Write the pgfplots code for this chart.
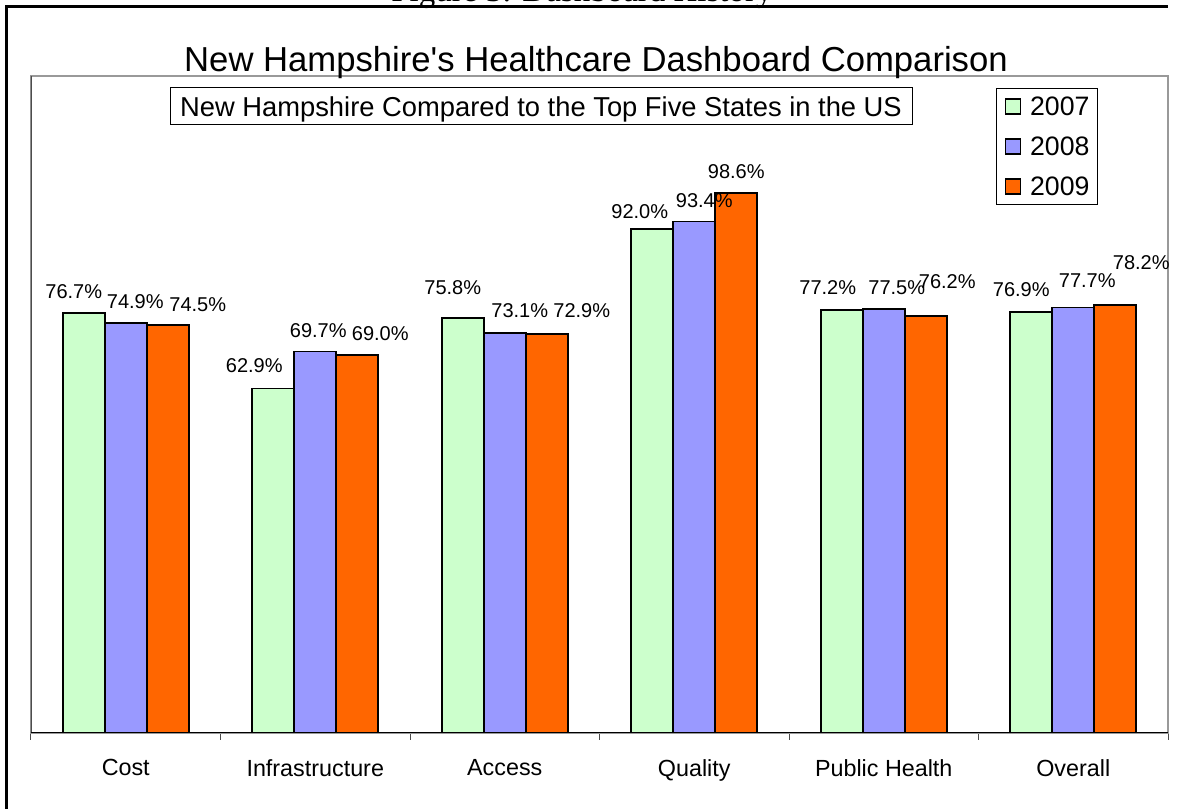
\documentclass[border=0pt]{standalone}
\usepackage{fontspec}
\setmainfont{Liberation Sans}
\newfontfamily\plainsans{Liberation Sans}
\newfontfamily\capserif{Liberation Serif}
\usepackage{pgfplots}
\usepackage{pgfplotstable}
\pgfplotsset{compat=1.18}
\definecolor{cgreen}{HTML}{CCFFCC}
\definecolor{cpurple}{HTML}{9999FF}
\definecolor{corange}{HTML}{FF6600}

\pgfplotstableread{
x y dx dy
0 76.7 -10 0
1 62.9 -19 2
2 75.8 -10 9
3 92.0 -12.5 -3
4 77.2 -14 2
5 76.9 -10 1
}\tblA
\pgfplotstableread{
x y dx dy
0 74.9 9.5 0
1 69.7 3 0
2 73.1 15 1
3 93.4 10 0
4 77.5 13 0
5 77.7 14 6
}\tblB
\pgfplotstableread{
x y dx dy
0 74.5 30 0
1 69.0 23 1
2 72.9 35 2
3 98.6 0 1
4 76.2 21.5 13
5 78.2 26 21
}\tblC

\begin{document}
\begin{tikzpicture}
\useasboundingbox (0,0) rectangle (882.75pt,606.75pt);
\begin{scope}
\clip (0,0) rectangle (882.75pt,606.75pt);
\node[anchor=base, font=\capserif\fontsize{24.75}{30}\selectfont, inner sep=0pt] at (436.5pt,605.5pt) {Figure 3: Dashboard History};
\end{scope}
\draw[line width=2.25pt] (4.5pt,0) -- (4.5pt,601.5pt) -- (876pt,601.5pt);

\begin{axis}[
  at={(23.25pt,57pt)}, anchor=south west,
  scale only axis, width=852.75pt, height=492.75pt,
  xmin=-0.5, xmax=5.5, ymin=0, ymax=120,
  ytick=\empty,
  xtick={0,...,5},
  xticklabels={Cost,Infrastructure,Access,Quality,Public Health,Overall},
  major tick length=0pt,
  minor xtick={-0.5,0.5,...,5.5},
  minor tick length=5.25pt,
  minor x tick style={draw=black!70, line width=0.75pt},
  tick align=outside,
  xtick pos=bottom,
  xticklabel style={font=\fontsize{17.5}{21}\selectfont, inner sep=0pt, anchor=north, yshift=-19.5pt},
  axis line style={draw=black!40, line width=1.1pt},
  ybar, bar width=0.2216,
  point meta=y,
  visualization depends on={\thisrow{dx} \as \ldx},
  visualization depends on={\thisrow{dy} \as \ldy},
  nodes near coords={\pgfmathprintnumber[fixed,fixed zerofill,precision=1]{\pgfplotspointmeta}\%},
  nodes near coords style={font=\fontsize{15}{18}\selectfont, inner sep=0pt, anchor=south, xshift=0.75pt*\ldx, yshift=9.75pt+0.75pt*\ldy},
  /pgf/number format/assume math mode=true,
  legend style={at={(0.9384,0.9817)}, anchor=north east, draw=black, line width=0.75pt, fill=white,
    font=\fontsize{20}{24}\selectfont, inner xsep=6pt, inner ysep=6.3pt, row sep=15.7pt,
    nodes={inner sep=0pt, text height=14.3pt, text depth=0pt}},
  legend cell align=left,
  legend image code/.code={\draw[#1, line width=0.9pt] (0pt,-5.6pt) rectangle (11.25pt,5.6pt); \path (18pt,0pt);},
]
\addplot[draw=black, line width=1.3pt, fill=cgreen, bar shift=-0.2216] table[x=x,y=y]{\tblA};
\addplot[draw=black, line width=1.3pt, fill=cpurple, bar shift=0] table[x=x,y=y]{\tblB};
\addplot[draw=black, line width=1.3pt, fill=corange, bar shift=0.2216] table[x=x,y=y]{\tblC};
\legend{2007,2008,2009}
\draw[black!70, line width=1.1pt] (rel axis cs:0,0) -- (rel axis cs:0,1);
\draw[black, line width=1pt] (rel axis cs:0,0) -- (rel axis cs:1,0);
\end{axis}

\node[anchor=base, font=\plainsans\fontsize{26}{31}\selectfont, inner sep=0pt] at (447pt,552.75pt) {New Hampshire's Healthcare Dashboard Comparison};
\draw[line width=0.75pt, fill=white] (127.5pt,513pt) rectangle (684pt,540.75pt);
\node[anchor=base, font=\fontsize{20.5}{24}\selectfont, inner sep=0pt] at (405.75pt,519.6pt) {New Hampshire Compared to the Top Five States in the US};
\end{tikzpicture}
\end{document}
